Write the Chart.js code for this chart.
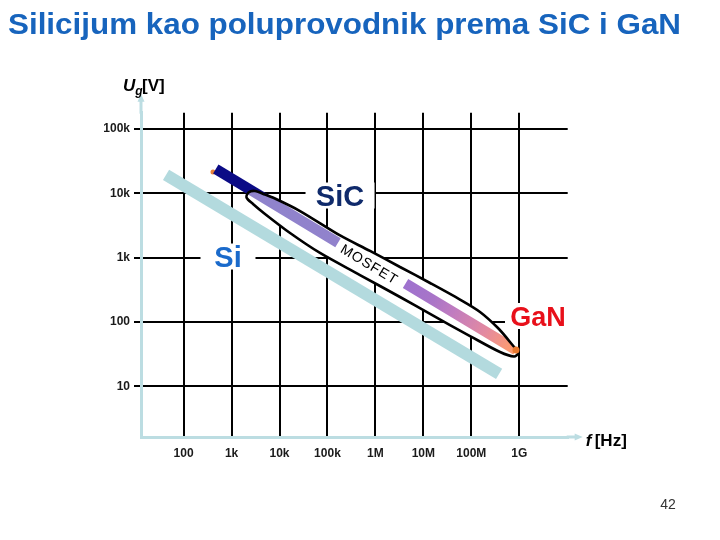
<!DOCTYPE html>
<html><head><meta charset="utf-8">
<script src="https://cdn.jsdelivr.net/npm/chart.js@4/dist/chart.umd.min.js"></script>
<style>html,body{margin:0;padding:0;background:#fff;}canvas{display:block;}</style>
</head><body>
<canvas id="c" width="720" height="540"></canvas>
<script>
// ---------------- data ----------------
const xTickValues = [1e2, 1e3, 1e4, 1e5, 1e6, 1e7, 1e8, 1e9];
const xTickLabels = ['100', '1k', '10k', '100k', '1M', '10M', '100M', '1G'];
const yTickValues = [1e1, 1e2, 1e3, 1e4, 1e5];
const yTickLabels = ['10', '100', '1k', '10k', '100k'];

// Si band (frequency [Hz], voltage [V])
const siFreq = [43, 3.8e8];
const siVolt = [19300, 15.5];

// SiC band, dark part (start)
const sicNavyFreq = [469, 1.3e4];
const sicNavyVolt = [23900, 5360];

// SiC -> GaN band (gap where "MOSFET" is written)
const sicFreq = [469, 1.66e5, 1.0e6, 4.25e6, 8.55e8];
const sicVolt = [23900, 1700, null, 397, 36.6];

// MOSFET outline (closed loop)
const loopFreq = [3.26e6, 1.38e7, 5.81e7, 1.52e8, 3.60e8, 6.41e8, 9.42e8, 7.77e8, 3.97e8, 9.40e7, 1.38e7, 3.26e6,
                  4.77e5, 6.99e4, 1.66e4, 4.98e3, 2.80e3, 2.05e3, 2.26e3, 3.08e3, 4.98e3, 8.05e3, 2.68e4, 1.83e5, 7.72e5, 3.26e6];
const loopVolt = [714, 403, 223, 143, 80.4, 48.7, 32.8, 29.0, 34.0, 60.3, 133, 244,
                  536, 1180, 2410, 4770, 6820, 8600, 10300, 10860, 9580, 8300, 5300, 2210, 1270, 714];

// end markers
const tipFreq = [8.55e8];
const tipVolt = [36.6];
const startDotFreq = [410];
const startDotVolt = [21400];

// ---------------- layout / styles ----------------
const AXIS_COLOR = '#bcdde2';
const FONT = '"Liberation Sans", Arial, Helvetica, sans-serif';

const annotations = [
  { text: 'SiC', f: 1.83e5, v: 9240, size: 29, color: '#0f2a6b', boxW: 69, boxH: 26 },
  { text: 'Si', f: 843, v: 1040, size: 29, color: '#1a6acb', boxW: 55, boxH: 26 },
  { text: 'GaN', f: 2.46e9, v: 123.6, size: 27, color: '#e8101a', boxW: 66, boxH: 26 }
];
const mosfetLabel = { text: 'MOSFET', f: 7.36e5, v: 767, angle: 31 };

const pts = (fs, vs) => fs.map((f, i) => ({ x: f, y: vs[i] }));

function sicGradient(c) {
  const chart = c.chart;
  const { chartArea, scales } = chart;
  if (!chartArea || !scales.x) return '#9084cb';
  const n = sicFreq.length - 1;
  const x0 = scales.x.getPixelForValue(sicFreq[0]), y0 = scales.y.getPixelForValue(sicVolt[0]);
  const x1 = scales.x.getPixelForValue(sicFreq[n]), y1 = scales.y.getPixelForValue(sicVolt[n]);
  const g = chart.ctx.createLinearGradient(x0, y0, x1, y1);
  g.addColorStop(0, '#8e84cc');
  g.addColorStop(0.40, '#9182cc');
  g.addColorStop(0.63, '#9e72cf');
  g.addColorStop(0.72, '#a874c8');
  g.addColorStop(0.79, '#c07cc0');
  g.addColorStop(0.90, '#e48aa0');
  g.addColorStop(0.97, '#f89878');
  g.addColorStop(1, '#ff9a6a');
  return g;
}

const loopClip = {
  id: 'loopClip',
  beforeDatasetDraw(chart, args) {
    const ds = chart.data.datasets[args.index];
    if (!ds.clipToLoop) return;
    const idx = chart.data.datasets.findIndex(d => d.isLoopFill);
    const line = chart.getDatasetMeta(idx).dataset;
    const ctx = chart.ctx;
    line.updateControlPoints(chart.chartArea, 'x');
    ctx.save();
    ctx.beginPath();
    line.path(ctx);
    ctx.closePath();
    ctx.clip();
  },
  afterDatasetDraw(chart, args) {
    const ds = chart.data.datasets[args.index];
    if (!ds.clipToLoop) return;
    chart.ctx.restore();
  }
};

const decorations = {
  id: 'decorations',
  afterDraw(chart) {
    const ctx = chart.ctx;
    const a = chart.chartArea;
    const sx = chart.scales.x, sy = chart.scales.y;
    ctx.save();
    // axis extensions with arrows
    ctx.strokeStyle = AXIS_COLOR; ctx.fillStyle = AXIS_COLOR; ctx.lineWidth = 3;
    ctx.beginPath(); ctx.moveTo(a.left, a.top + 1); ctx.lineTo(a.left, a.top - 13); ctx.stroke();
    ctx.beginPath(); ctx.moveTo(a.left, a.top - 19); ctx.lineTo(a.left - 3.5, a.top - 11); ctx.lineTo(a.left + 3.5, a.top - 11); ctx.closePath(); ctx.fill();
    ctx.beginPath(); ctx.moveTo(a.right - 1, a.bottom); ctx.lineTo(a.right + 9, a.bottom); ctx.stroke();
    ctx.beginPath(); ctx.moveTo(a.right + 15, a.bottom); ctx.lineTo(a.right + 7, a.bottom - 3.5); ctx.lineTo(a.right + 7, a.bottom + 3.5); ctx.closePath(); ctx.fill();

    // labels with white boxes
    ctx.textAlign = 'center'; ctx.textBaseline = 'alphabetic';
    for (const an of annotations) {
      const px = sx.getPixelForValue(an.f), py = sy.getPixelForValue(an.v);
      ctx.fillStyle = '#fff';
      ctx.fillRect(px - an.boxW / 2, py - an.boxH / 2, an.boxW, an.boxH);
      ctx.fillStyle = an.color;
      ctx.font = 'bold ' + an.size + 'px ' + FONT;
      ctx.fillText(an.text, px, py + an.size * 0.36);
    }
    // MOSFET rotated label
    {
      const px = sx.getPixelForValue(mosfetLabel.f), py = sy.getPixelForValue(mosfetLabel.v);
      ctx.save();
      ctx.translate(px, py);
      ctx.rotate(mosfetLabel.angle * Math.PI / 180);
      ctx.fillStyle = '#000';
      ctx.font = '14px ' + FONT;
      try { ctx.letterSpacing = '1px'; } catch (e) {}
      ctx.textBaseline = 'middle';
      ctx.fillText(mosfetLabel.text, 0, 0);
      ctx.restore();
    }

    // axis titles
    ctx.textAlign = 'left'; ctx.textBaseline = 'alphabetic'; ctx.fillStyle = '#000';
    ctx.font = 'bold italic 17px ' + FONT;
    ctx.fillText('U', a.left - 18, a.top - 22);
    const wU = ctx.measureText('U').width;
    ctx.font = 'bold italic 12px ' + FONT;
    ctx.fillText('g', a.left - 18 + wU, a.top - 18);
    ctx.font = 'bold 17px ' + FONT;
    ctx.fillText('[V]', a.left + 1, a.top - 22);

    ctx.font = 'bold italic 17px ' + FONT;
    ctx.fillText('f', a.right + 18, a.bottom + 9);
    ctx.font = 'bold 17px ' + FONT;
    ctx.fillText('[Hz]', a.right + 27, a.bottom + 9);

    // title
    const title = 'Silicijum kao poluprovodnik prema SiC i GaN';
    ctx.font = 'bold 30px ' + FONT;
    ctx.fillStyle = '#1764bd';
    const w = ctx.measureText(title).width;
    const s = Math.max(0.85, Math.min(1.15, 673 / w));
    ctx.save();
    ctx.translate(8, 34);
    ctx.scale(s, 1);
    ctx.fillText(title, 0, 0);
    ctx.restore();

    // page number
    ctx.font = '14px ' + FONT;
    ctx.fillStyle = '#333';
    ctx.textAlign = 'center';
    ctx.fillText('42', 668, 509);
    ctx.restore();
  }
};

new Chart(document.getElementById('c'), {
  type: 'line',
  data: {
    datasets: [
      { label: 'Si', data: pts(siFreq, siVolt), borderColor: '#b3dade', borderWidth: 12, borderCapStyle: 'butt', pointRadius: 0, order: 7 },
      { label: 'start', data: pts(startDotFreq, startDotVolt), showLine: false, pointRadius: 2.5, pointBackgroundColor: '#e8813a', pointBorderWidth: 0, order: 6 },
      { label: 'SiC dark', data: pts(sicNavyFreq, sicNavyVolt), borderColor: '#0b0b86', borderWidth: 10.5, borderCapStyle: 'butt', pointRadius: 0, order: 5 },
      { label: 'loop fill', isLoopFill: true, data: pts(loopFreq, loopVolt), borderWidth: 0, borderColor: 'rgba(0,0,0,0)', backgroundColor: '#ffffff', fill: 'shape', tension: 0.3, pointRadius: 0, order: 4 },
      { label: 'SiC-GaN', clipToLoop: true, data: pts(sicFreq, sicVolt), borderColor: sicGradient, borderWidth: 10.5, borderCapStyle: 'butt', pointRadius: 0, spanGaps: false, order: 3 },
      { label: 'MOSFET', data: pts(loopFreq, loopVolt), borderColor: '#000', borderWidth: 2.6, fill: false, tension: 0.3, pointRadius: 0, order: 2 },
      { label: 'tip', data: pts(tipFreq, tipVolt), showLine: false, pointRadius: 3.5, pointBackgroundColor: '#e8782e', pointBorderWidth: 0, order: 1 }
    ]
  },
  options: {
    responsive: false,
    devicePixelRatio: 1,
    animation: false,
    events: [],
    layout: { padding: { left: 0, top: 112.7, right: 152.3, bottom: 73 } },
    plugins: { legend: { display: false }, title: { display: false }, tooltip: { enabled: false } },
    scales: {
      x: {
        type: 'logarithmic', min: 12.93, max: 1.024e10, bounds: 'data',
        afterBuildTicks: s => { s.ticks = xTickValues.map(v => ({ value: v })); },
        afterFit: s => { s.height = 30; },
        grid: { color: '#000', lineWidth: 2, drawTicks: false },
        border: { color: AXIS_COLOR, width: 3 },
        ticks: { autoSkip: false, maxRotation: 0, padding: 9, color: '#1a1a1a',
                 font: { family: FONT, size: 12, weight: 'bold' },
                 callback: (v, i) => xTickLabels[i] }
      },
      y: {
        type: 'logarithmic', min: 1.622, max: 1.793e5, bounds: 'data',
        afterBuildTicks: s => { s.ticks = yTickValues.map(v => ({ value: v })); },
        afterFit: s => { s.width = 141; },
        grid: { color: '#000', lineWidth: 2, drawTicks: true, tickLength: 7 },
        border: { color: AXIS_COLOR, width: 3 },
        ticks: { autoSkip: false, padding: 4, color: '#1a1a1a',
                 font: { family: FONT, size: 12, weight: 'bold' },
                 callback: (v, i) => yTickLabels[i] }
      }
    }
  },
  plugins: [loopClip, decorations]
});
</script>
</body></html>
